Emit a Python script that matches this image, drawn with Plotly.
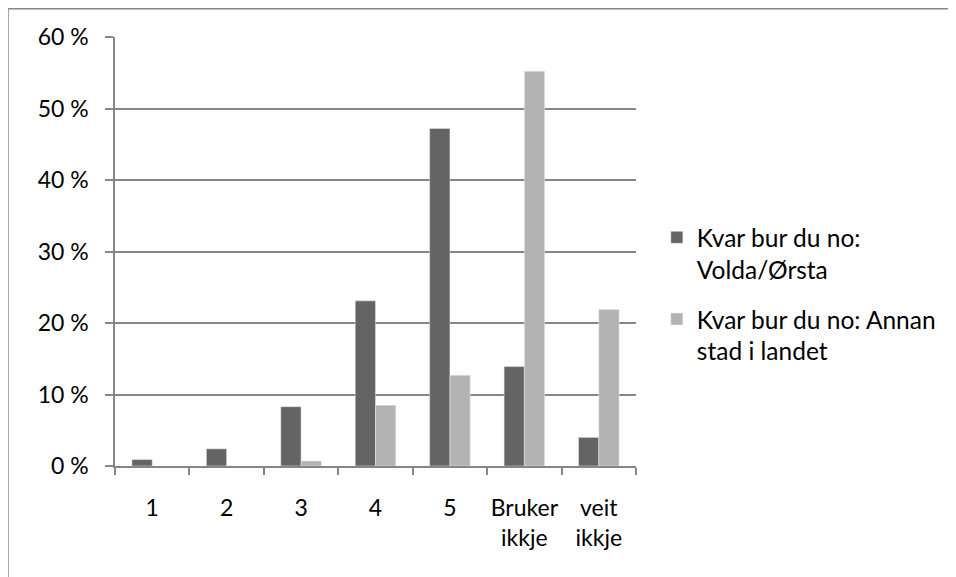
import plotly.graph_objects as go

categories = ['1', '2', '3', '4', '5', 'Bruker<br>ikkje', 'veit<br>ikkje']
volda_orsta = [0.009, 0.024, 0.083, 0.231, 0.472, 0.139, 0.040]
annan_stad = [0.0, 0.0, 0.007, 0.085, 0.127, 0.552, 0.219]
y_ticks = [0, 0.1, 0.2, 0.3, 0.4, 0.5, 0.6]
y_labels = ['0 %', '10 %', '20 %', '30 %', '40 %', '50 %', '60 %']

grey = '#868686'
font = dict(family='Lato, Carlito, Calibri, sans-serif', size=23, color='#000000')
legend_font = dict(family='Lato, Carlito, Calibri, sans-serif', size=24.5, color='#000000')

fig = go.Figure()

fig.add_trace(go.Bar(
    name='Kvar bur du no:<br>Volda/Ørsta',
    x=categories,
    y=volda_orsta,
    marker_color='#646464',
    legendgroup='a'
))

fig.add_trace(go.Bar(
    name='Kvar bur du no: Annan<br>stad i landet',
    x=categories,
    y=annan_stad,
    marker_color='#b3b3b3',
    legendgroup='b'
))

# page body adds an 8px offset, so the figure is a bit smaller than the window
fig.update_layout(
    width=948,
    height=569,
    margin=dict(l=107, r=320, t=29, b=111),
    paper_bgcolor='white',
    plot_bgcolor='white',
    font=font,
    barmode='group',
    bargap=0.455,
    bargroupgap=0,
    legend=dict(
        x=1.04, xanchor='left',
        y=0.40, yanchor='middle',
        valign='top',
        traceorder='grouped',
        tracegroupgap=15,
        font=legend_font,
        bgcolor='rgba(0,0,0,0)'
    ),
    shapes=[dict(
        type='rect', xref='paper', yref='paper',
        x0=-0.2054, x1=2.0, y0=-1.0, y1=1.066,
        line=dict(color=grey, width=1.5)
    )]
)

fig.update_yaxes(
    range=[0, 0.6],
    tickvals=y_ticks,
    ticktext=y_labels,
    showgrid=True, gridcolor=grey, gridwidth=1.5,
    showline=True, linecolor=grey, linewidth=1.5,
    ticks='outside', ticklen=8, tickcolor=grey, tickwidth=1.5,
    ticklabelstandoff=12,
    zeroline=False
)

fig.update_xaxes(
    showline=True, linecolor=grey, linewidth=1.5,
    ticks='outside', ticklen=7, tickcolor=grey, tickwidth=1.5,
    tickson='boundaries',
    tickangle=0,
    ticklabelstandoff=21,
    showgrid=False
)

fig.write_html("out.html")
